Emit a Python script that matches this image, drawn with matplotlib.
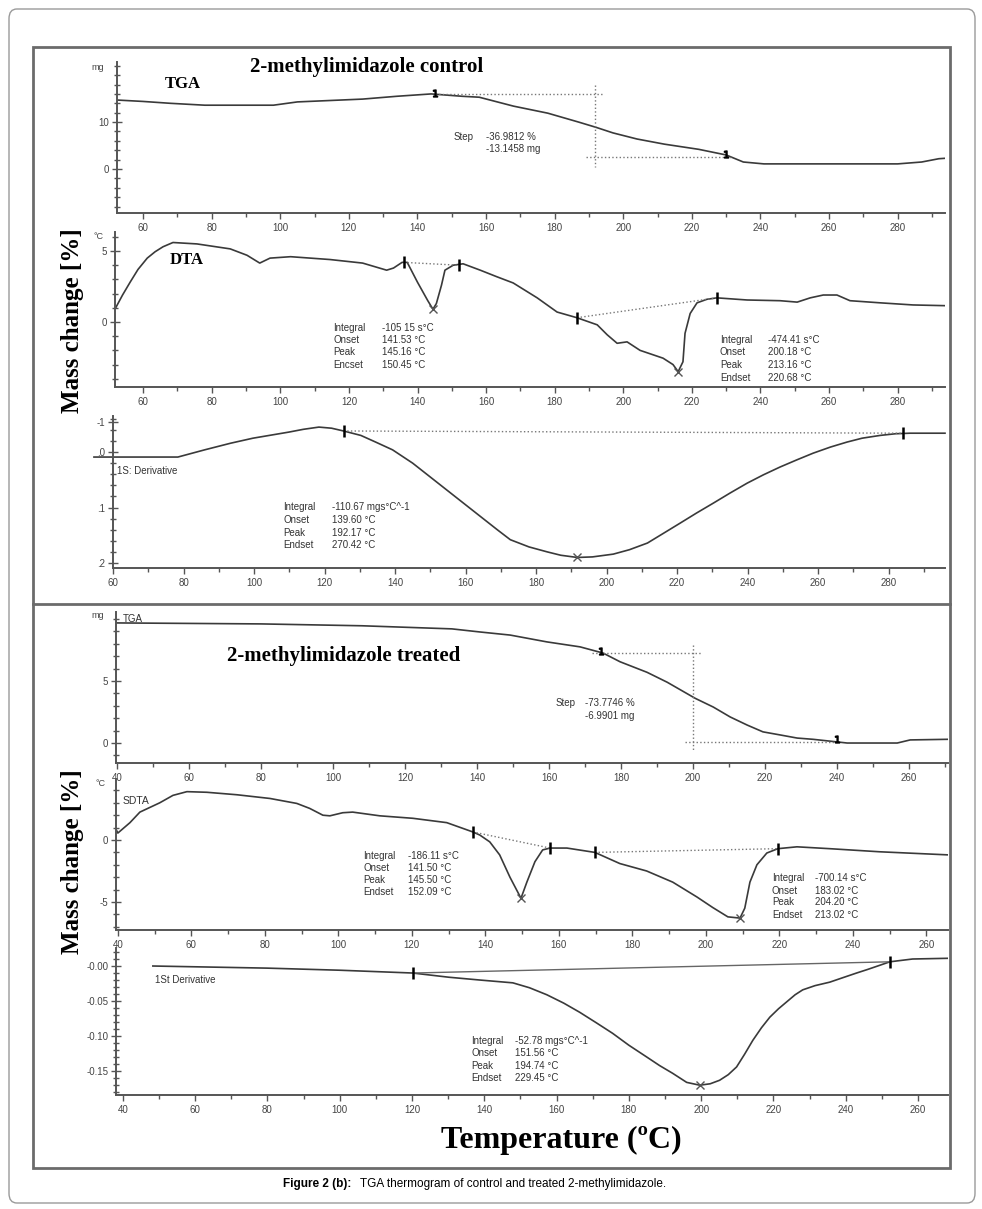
import numpy as np
import matplotlib
matplotlib.use("Agg")
import matplotlib.pyplot as plt
from matplotlib.patches import Rectangle, FancyBboxPatch
from matplotlib.ticker import MultipleLocator, FixedLocator

# ---- data ----
# control: TGA (mg)
tga_c_t = [52.4, 60, 68, 78, 98, 105, 124, 134, 144, 153, 158, 168, 178, 187, 192, 197,
           204, 212, 222, 230, 235, 241, 260, 280, 287, 292, 294]
tga_c_m = [14.7, 14.4, 14.0, 13.6, 13.6, 14.3, 14.9, 15.5, 16.0, 15.5, 15.3, 13.4, 11.9, 10.0,
           8.9, 7.7, 6.4, 5.3, 4.2, 3.0, 1.5, 1.1, 1.1, 1.1, 1.5, 2.2, 2.3]
tga_c_step_t = [145.0, 191.8, 232.0]
tga_c_step_m = [16.0, 2.55]

# control: DTA (°C)
dta_c_t = [52.0, 54.0, 56.2, 58.5, 61.2, 63.5, 65.8, 68.7, 75.7, 85.4, 90.3, 94.0, 97.0, 103.0,
           114.5, 124.0, 131.0, 133.0, 135.5, 137.0, 140.0, 143.0, 144.5, 145.5, 147.0, 148.0,
           150.4, 153.3, 158.3, 163.0, 167.9, 174.9, 180.7, 186.5, 192.4, 195.3, 198.2, 201.1,
           204.9, 211.6, 214.5, 216.0, 217.4, 218.0, 219.5, 221.5, 224.4, 227.3, 236.1, 245.7,
           250.7, 254.5, 258.3, 262.3, 266.1, 274.9, 284.5, 293.8]
dta_c_v = [1.0, 1.9, 2.8, 3.7, 4.5, 4.95, 5.3, 5.6, 5.5, 5.15, 4.7, 4.15, 4.5, 4.6, 4.4, 4.15,
           3.65, 3.8, 4.2, 4.2, 2.8, 1.5, 0.9, 1.3, 2.6, 3.65, 4.0, 4.1, 3.65, 3.2, 2.75, 1.7,
           0.7, 0.3, -0.2, -0.9, -1.5, -1.4, -2.0, -2.55, -3.0, -3.5, -2.8, -0.8, 0.6, 1.35, 1.6,
           1.7, 1.55, 1.5, 1.4, 1.7, 1.9, 1.9, 1.5, 1.35, 1.2, 1.15]
dta_c_base_t = [[136.0, 152.0], [186.5, 227.3]]
dta_c_base_v = [[4.2, 4.0], [0.3, 1.7]]
dta_c_peak_t = [144.5, 216.0]
dta_c_peak_v = [0.9, -3.5]

# control: 1st derivative
der_c_t = [54.6, 78.4, 86.0, 93.4, 99.7, 109.9, 114.0, 118.4, 122.0, 125.4, 130.3, 134.5, 139.3,
           145.0, 150.0, 155.0, 159.4, 164.2, 169.0, 172.7, 178.0, 183.2, 187.0, 191.7, 196.0,
           201.9, 206.5, 211.6, 216.0, 220.9, 225.5, 230.3, 235.0, 239.9, 244.5, 249.2, 254.0,
           258.6, 263.5, 268.2, 272.5, 277.6, 282.0, 286.1, 296.0]
der_c_v = [-0.009, -0.009, 0.004, 0.016, 0.025, 0.036, 0.041, 0.045, 0.043, 0.038, 0.030,
           0.018, 0.004, -0.020, -0.045, -0.070, -0.092, -0.116, -0.140, -0.158, -0.171, -0.180,
           -0.186, -0.190, -0.189, -0.184, -0.176, -0.164, -0.147, -0.128, -0.110, -0.092,
           -0.074, -0.056, -0.041, -0.027, -0.014, -0.002, 0.009, 0.018, 0.025, 0.030, 0.033,
           0.034, 0.034]
der_c_base_t = [125.4, 284.0]
der_c_base_v = [0.038, 0.034]
der_c_peak = (191.7, -0.19)

# treated: TGA (mg)
tga_t_t = [39.7, 80.0, 108.0, 133.0, 140.8, 149.2, 159.4, 168.6, 175.0, 179.7, 187.2, 192.8,
           200.6, 205.6, 210.3, 215.0, 219.4, 224.2, 228.9, 233.3, 242.8, 256.7, 260.3, 270.8]
tga_t_m = [9.68, 9.6, 9.45, 9.2, 8.95, 8.7, 8.15, 7.75, 7.25, 6.55, 5.7, 4.9, 3.6, 2.9, 2.1,
           1.45, 0.9, 0.65, 0.4, 0.3, 0.0, 0.0, 0.25, 0.3]
tga_t_step_t = [174.5, 200.0, 240.0]
tga_t_step_m = [7.25, 0.1]

# treated: SDTA (°C)
sdta_t_t = [39.2, 40.0, 43.3, 46.0, 51.4, 55.0, 58.8, 64.2, 72.4, 81.4, 88.7, 92.2, 95.8, 97.7,
            101.2, 103.9, 111.3, 120.3, 129.5, 136.6, 138.5, 141.2, 143.9, 146.7, 149.7, 151.3,
            153.5, 155.6, 157.6, 162.2, 169.8, 176.6, 183.9, 191.0, 197.6, 201.9, 206.0, 209.3,
            210.6, 212.0, 213.9, 216.6, 219.6, 224.8, 233.7, 247.3, 265.9]
sdta_t_v = [1.05, 0.56, 1.4, 2.25, 3.0, 3.6, 3.9, 3.85, 3.65, 3.35, 2.95, 2.55, 2.0, 1.95, 2.2,
            2.25, 1.95, 1.75, 1.4, 0.65, 0.4, -0.15, -1.2, -3.0, -4.7, -3.4, -1.75, -0.8, -0.65,
            -0.65, -1.0, -1.9, -2.5, -3.4, -4.6, -5.45, -6.2, -6.3, -5.5, -3.4, -2.0, -1.05,
            -0.7, -0.55, -0.7, -0.95, -1.2]
sdta_base_t = [[136.6, 157.6], [169.8, 219.6]]
sdta_base_v = [[0.65, -0.65], [-1.0, -0.7]]
sdta_peak_t = [149.7, 209.3]
sdta_peak_v = [-4.7, -6.3]

# treated: 1st derivative
der_t_t = [48.3, 79.8, 100.0, 120.2, 130.2, 138.8, 147.9, 152.5, 157.3, 162.0, 166.4, 171.0,
           175.5, 180.0, 185.0, 188.5, 192.1, 196.0, 199.6, 202.5, 205.1, 207.5, 209.8, 212.0,
           214.3, 216.7, 219.0, 221.4, 223.7, 226.0, 228.1, 231.5, 235.6, 239.0, 243.0, 246.0,
           249.4, 252.2, 258.5, 268.2]
der_t_v = [0.0, -0.003, -0.006, -0.010, -0.016, -0.020, -0.024, -0.031, -0.041, -0.053, -0.066,
           -0.081, -0.096, -0.113, -0.130, -0.142, -0.153, -0.166, -0.170, -0.168, -0.163,
           -0.155, -0.144, -0.126, -0.106, -0.088, -0.073, -0.061, -0.051, -0.041, -0.034,
           -0.028, -0.023, -0.017, -0.010, -0.005, 0.001, 0.006, 0.010, 0.011]
der_t_base_t = [120.2, 252.2]
der_t_base_v = [-0.010, 0.006]
der_t_peak = (199.6, -0.17)

# annotation text
dta_c_txt1 = [("Integral", "-105 15 s°C"), ("Onset", "141.53 °C"), ("Peak", "145.16 °C"), ("Encset", "150.45 °C")]
dta_c_txt2 = [("Integral", "-474.41 s°C"), ("Onset", "200.18 °C"), ("Peak", "213.16 °C"), ("Endset", "220.68 °C")]
der_c_txt = [("Integral", "-110.67 mgs°C^-1"), ("Onset", "139.60 °C"), ("Peak", "192.17 °C"), ("Endset", "270.42 °C")]
sdta_txt1 = [("Integral", "-186.11 s°C"), ("Onset", "141.50 °C"), ("Peak", "145.50 °C"), ("Endset", "152.09 °C")]
sdta_txt2 = [("Integral", "-700.14 s°C"), ("Onset", "183.02 °C"), ("Peak", "204.20 °C"), ("Endset", "213.02 °C")]
der_t_txt = [("Integral", "-52.78 mgs°C^-1"), ("Onset", "151.56 °C"), ("Peak", "194.74 °C"), ("Endset", "229.45 °C")]

# ---- figure ----
W, H = 982, 1209
plt.rcParams['font.family'] = ['Liberation Sans', 'DejaVu Sans']
fig = plt.figure(figsize=(W / 100, H / 100), dpi=100)
fig.patch.set_facecolor('white')

LINE = '#3a3a3a'
TICK = '#555555'
SERIF = ['Liberation Serif', 'DejaVu Serif']


def fx(x):
    return x / W


def fy(y):
    return 1 - y / H


def panel(box, xlim, ylim, yticks, ylabels, yminor):
    x0, y0, x1, y1 = box
    ax = fig.add_axes([fx(x0), fy(y1), (x1 - x0) / W, (y1 - y0) / H])
    ax.set_xlim(*xlim)
    ax.set_ylim(*ylim)
    for s in ['top', 'right']:
        ax.spines[s].set_visible(False)
    for s in ['left', 'bottom']:
        ax.spines[s].set_color(TICK)
        ax.spines[s].set_linewidth(1.4)
    ax.patch.set_alpha(0)
    ax.xaxis.set_major_locator(MultipleLocator(20))
    ax.xaxis.set_minor_locator(MultipleLocator(10))
    ax.yaxis.set_major_locator(FixedLocator(yticks))
    ax.set_yticklabels(ylabels)
    ax.yaxis.set_minor_locator(MultipleLocator(yminor))
    ax.tick_params(axis='x', which='major', direction='out', length=4, width=1, color=TICK,
                   labelsize=7, labelcolor='#444444', pad=3)
    ax.tick_params(axis='x', which='minor', direction='out', length=3, width=1, color=TICK)
    ax.tick_params(axis='y', which='major', direction='inout', length=7, width=1, color=TICK,
                   labelsize=7, labelcolor='#444444', pad=2)
    ax.tick_params(axis='y', which='minor', direction='inout', length=4, width=1, color=TICK)
    return ax


def brackets(ax, ts, vs):
    ax.plot(ts, vs, ls='none', marker='|', ms=9, mew=1.8, color='black', zorder=5)


def block(rows, xl, xv, ys):
    for (k, v), y in zip(rows, ys):
        fig.text(fx(xl), fy(y), k, fontsize=7, color='#333333', va='center', ha='left')
        fig.text(fx(xv), fy(y), v, fontsize=7, color='#333333', va='center', ha='left')


# frames
fig.add_artist(FancyBboxPatch((fx(9), fy(1203)), (975 - 9) / W, (1203 - 9) / H,
                              boxstyle='round,pad=0,rounding_size=0.008', transform=fig.transFigure,
                              fill=False, edgecolor='#9a9a9a', lw=1.0))
fig.add_artist(Rectangle((fx(33), fy(1168)), (950 - 33) / W, (1168 - 47) / H,
                         transform=fig.transFigure, fill=False, edgecolor='#6b6b6b', lw=2.0))
fig.add_artist(plt.Line2D([fx(33), fx(950)], [fy(604), fy(604)], transform=fig.transFigure,
                          color='#6b6b6b', lw=2.0))

# ---- control TGA ----
ax1 = panel((117, 62, 945, 213), (52.4, 293.8), (-9.36, 22.8), [0, 10], ['0', '10'], 2)
ax1.plot(tga_c_t, tga_c_m, color=LINE, lw=1.2)
ax1.plot([tga_c_step_t[0], 194.0], [tga_c_step_m[0]] * 2, ls=':', color='#777777', lw=1)
ax1.plot([tga_c_step_t[1]] * 2, [17.9, 0.4], ls=':', color='#777777', lw=1)
ax1.plot([189.0, tga_c_step_t[2]], [tga_c_step_m[1]] * 2, ls=':', color='#777777', lw=1)
ax1.plot([tga_c_step_t[0], 230.0], [16.3, 3.2], ls='none', marker='$1$', ms=5, color='black')
fig.text(fx(104), fy(68), 'mg', fontsize=6.5, color='#444444', ha='right', va='center')
fig.text(fx(250), fy(67), '2-methylimidazole control', family=SERIF, fontsize=15,
         fontweight='bold', va='center')
fig.text(fx(165), fy(84), 'TGA', family=SERIF, fontsize=12, fontweight='bold', va='center')
fig.text(fx(454), fy(137), 'Step', fontsize=7, color='#333333', va='center')
fig.text(fx(486), fy(137), '-36.9812 %', fontsize=7, color='#333333', va='center')
fig.text(fx(486), fy(149), '-13.1458 mg', fontsize=7, color='#333333', va='center')

# ---- control DTA ----
ax2 = panel((115, 232, 945, 387), (51.8, 293.8), (-4.58, 6.34), [0, 5], ['0', '5'], 1)
ax2.plot(dta_c_t, dta_c_v, color=LINE, lw=1.2)
for bt, bv in zip(dta_c_base_t, dta_c_base_v):
    ax2.plot(bt, bv, ls=':', color='#777777', lw=1)
    brackets(ax2, bt, bv)
ax2.plot(dta_c_peak_t, dta_c_peak_v, ls='none', marker='x', ms=6, color='#555555')
fig.text(fx(104), fy(236), '°C', fontsize=6.5, color='#444444', ha='right', va='center')
fig.text(fx(170), fy(260), 'DTA', family=SERIF, fontsize=12, fontweight='bold', va='center')
block(dta_c_txt1, 333, 382, [328, 340, 352, 365])
block(dta_c_txt2, 720, 768, [340, 352, 365, 378])

# ---- control derivative ----
ax3 = panel((113, 416, 945, 568), (60.0, 296), (-0.209, 0.065), [0.054, 0, -0.1, -0.2],
            ['-1', '.0', '.1', '.2'], 0.02)
ax3.plot(der_c_t, der_c_v, color=LINE, lw=1.2, clip_on=False)
ax3.plot(der_c_base_t, der_c_base_v, ls=':', color='#777777', lw=1)
brackets(ax3, der_c_base_t, der_c_base_v)
ax3.plot(*der_c_peak, ls='none', marker='x', ms=6, color='#555555')
fig.text(fx(117), fy(471), '1S: Derivative', fontsize=7, color='#333333', va='center')
block(der_c_txt, 283, 332, [507, 520, 533, 545])

# ---- treated TGA ----
ax4 = panel((116, 612, 948, 763), (39.7, 270.8), (-1.61, 10.56), [0, 5], ['0', '5'], 1)
ax4.plot(tga_t_t, tga_t_m, color=LINE, lw=1.2)
ax4.plot([172.0, 202.6], [tga_t_step_m[0]] * 2, ls=':', color='#777777', lw=1)
ax4.plot([tga_t_step_t[1]] * 2, [7.9, -0.56], ls=':', color='#777777', lw=1)
ax4.plot([197.8, tga_t_step_t[2]], [tga_t_step_m[1]] * 2, ls=':', color='#777777', lw=1)
ax4.plot([tga_t_step_t[0], tga_t_step_t[2]], [7.45, 0.3], ls='none', marker='$1$', ms=5,
         color='black')
fig.text(fx(104), fy(616), 'mg', fontsize=6.5, color='#444444', ha='right', va='center')
fig.text(fx(123), fy(619), 'TGA', fontsize=7, color='#333333', va='center')
fig.text(fx(227), fy(656), '2-methylimidazole treated', family=SERIF, fontsize=15,
         fontweight='bold', va='center')
fig.text(fx(556), fy(703), 'Step', fontsize=7, color='#333333', va='center')
fig.text(fx(585), fy(703), '-73.7746 %', fontsize=7, color='#333333', va='center')
fig.text(fx(585), fy(716), '-6.9901 mg', fontsize=7, color='#333333', va='center')

# ---- treated SDTA ----
ax5 = panel((116, 780, 948, 930), (39.5, 265.9), (-7.26, 4.84), [0, -5], ['0', '-5'], 1)
ax5.plot(sdta_t_t, sdta_t_v, color=LINE, lw=1.2)
for bt, bv in zip(sdta_base_t, sdta_base_v):
    ax5.plot(bt, bv, ls=':', color='#777777', lw=1)
    brackets(ax5, bt, bv)
ax5.plot(sdta_peak_t, sdta_peak_v, ls='none', marker='x', ms=6, color='#555555')
fig.text(fx(106), fy(784), '°C', fontsize=6.5, color='#444444', ha='right', va='center')
fig.text(fx(123), fy(801), 'SDTA', fontsize=7.5, color='#333333', va='center')
block(sdta_txt1, 363, 408, [856, 868, 880, 892])
block(sdta_txt2, 772, 815, [878, 891, 902, 915])

# ---- treated derivative ----
ax6 = panel((116, 948, 948, 1095), (38.1, 268.3), (-0.184, 0.0257), [0, -0.05, -0.1, -0.15],
            ['-0.00', '-0.05', '-0.10', '-0.15'], 0.01)
ax6.plot(der_t_t, der_t_v, color=LINE, lw=1.2)
ax6.plot(der_t_base_t, der_t_base_v, color='#666666', lw=1)
brackets(ax6, der_t_base_t, der_t_base_v)
ax6.plot(*der_t_peak, ls='none', marker='x', ms=6, color='#555555')
fig.text(fx(155), fy(980), '1St Derivative', fontsize=7, color='#333333', va='center')
block(der_t_txt, 471, 515, [1041, 1053, 1066, 1078])

# ---- shared labels ----
fig.text(fx(72), fy(321), 'Mass change [%]', family=SERIF, fontsize=18, fontweight='bold',
         rotation=90, ha='center', va='center')
fig.text(fx(72), fy(862), 'Mass change [%]', family=SERIF, fontsize=18, fontweight='bold',
         rotation=90, ha='center', va='center')
fig.text(fx(561), fy(1140), 'Temperature (ºC)', family=SERIF, fontsize=23, fontweight='bold',
         ha='center', va='center')

fig.text(fx(283), fy(1184), 'Figure 2 (b):', fontsize=8.5, fontweight='bold', va='center')
fig.text(fx(360), fy(1184), 'TGA thermogram of control and treated 2-methylimidazole.',
         fontsize=8.5, va='center')

fig.savefig('out.png', dpi=100)
